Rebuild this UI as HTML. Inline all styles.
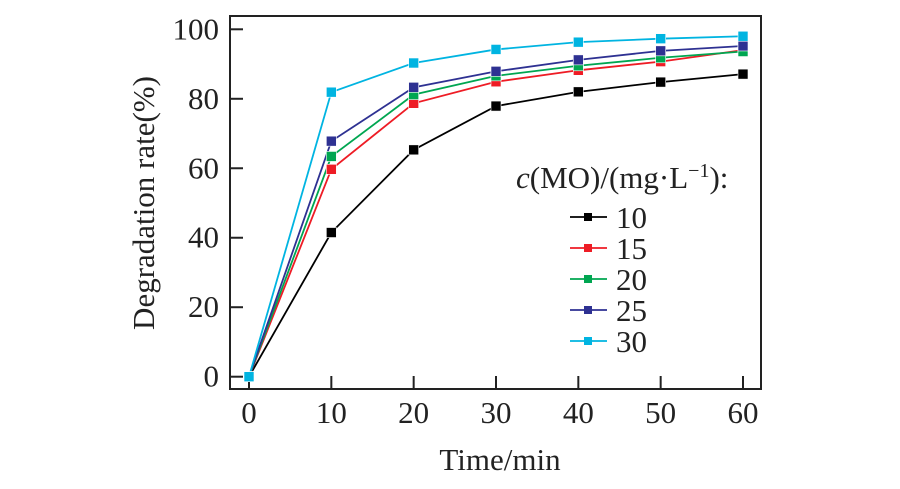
<!DOCTYPE html>
<html><head><meta charset="utf-8"><style>
body{margin:0;background:#fff;}
svg{display:block;font-family:"Liberation Serif",serif;}
</style></head><body>
<svg id="chart" width="900" height="489">
<g id="plot"></g>
</svg>
<script>
const times=[0,10,20,30,40,50,60];
const seriesNames=["10","15","20","25","30"];
const s10=[0,41.5,65.3,77.9,82.0,84.8,87.1];
const s15=[0,59.7,78.7,84.9,88.2,90.7,94.0];
const s20=[0,63.4,81.2,86.6,89.5,91.8,93.6];
const s25=[0,67.8,83.3,87.9,91.2,93.8,95.2];
const s30=[0,81.9,90.3,94.2,96.3,97.3,98.0];
const xTicks=[0,10,20,30,40,50,60];
const yTicks=[0,20,40,60,80,100];
const colors=["#000000","#ee1c25","#00a651","#2e3192","#00b4e1"];
const allSeries=[s10,s15,s20,s25,s30];
const NS="http://www.w3.org/2000/svg";
const g=document.getElementById('plot');
const FS=31;
function X(v){return 249+v*(743-249)/60;}
function Y(v){return 376.7-v*(376.7-29.3)/100;}
function mk(t,a,txt){const e=document.createElementNS(NS,t);for(const k in a)e.setAttribute(k,a[k]);if(txt!==undefined)e.textContent=txt;g.appendChild(e);return e;}
let e;
e=mk('rect',{x:230,y:16,width:531,height:373,fill:'none',stroke:'#222','stroke-width':2});


xTicks.forEach(v=>{
 e=mk('line',{x1:X(v),x2:X(v),y1:389,y2:376,stroke:'#222','stroke-width':2});
 
 
 e=mk('text',{x:X(v),y:423,'font-size':FS,'text-anchor':'middle',fill:'#222'},String(v));
 
 
});
yTicks.forEach(v=>{
 e=mk('line',{x1:230,x2:243,y1:Y(v),y2:Y(v),stroke:'#222','stroke-width':2});
 
 
 e=mk('text',{x:219,y:Y(v)+10,'font-size':FS,'text-anchor':'end',fill:'#222'},String(v));
 
 
});
e=mk('text',{x:500,y:470,'font-size':FS,'text-anchor':'middle',fill:'#222'},'Time/min');


e=mk('text',{x:0,y:0,'font-size':FS,'text-anchor':'middle',fill:'#222',transform:'translate(154,203) rotate(-90)'},'Degradation rate(%)');


allSeries.forEach((s,i)=>{
 const pts=s.map((v,j)=>X(times[j])+','+Y(v)).join(' ');
 e=mk('polyline',{points:pts,fill:'none',stroke:colors[i],'stroke-width':1.8});
 
 
});
allSeries.forEach((s,i)=>{
 s.forEach((v,j)=>{
  e=mk('rect',{x:X(times[j])-5,y:Y(v)-5,width:10,height:10,fill:colors[i],stroke:'#fff','stroke-width':0.6});
  
  
 });
});
e=mk('text',{x:516,y:188,'font-size':FS,fill:'#222'});
e.innerHTML='<tspan font-style="italic">c</tspan>(MO)/(mg·L<tspan font-size="20" dy="-11">−1</tspan><tspan dy="11">):</tspan>';


seriesNames.forEach((n,i)=>{
 const y=217+i*31;
 e=mk('line',{x1:570,x2:607,y1:y,y2:y,stroke:colors[i],'stroke-width':1.8});
 
 
 e=mk('rect',{x:584,y:y-4,width:8,height:8,fill:colors[i]});
 
 
 e=mk('text',{x:616,y:y+11,'font-size':FS,fill:'#222'},n);
 
 
});
</script>
</body></html>
